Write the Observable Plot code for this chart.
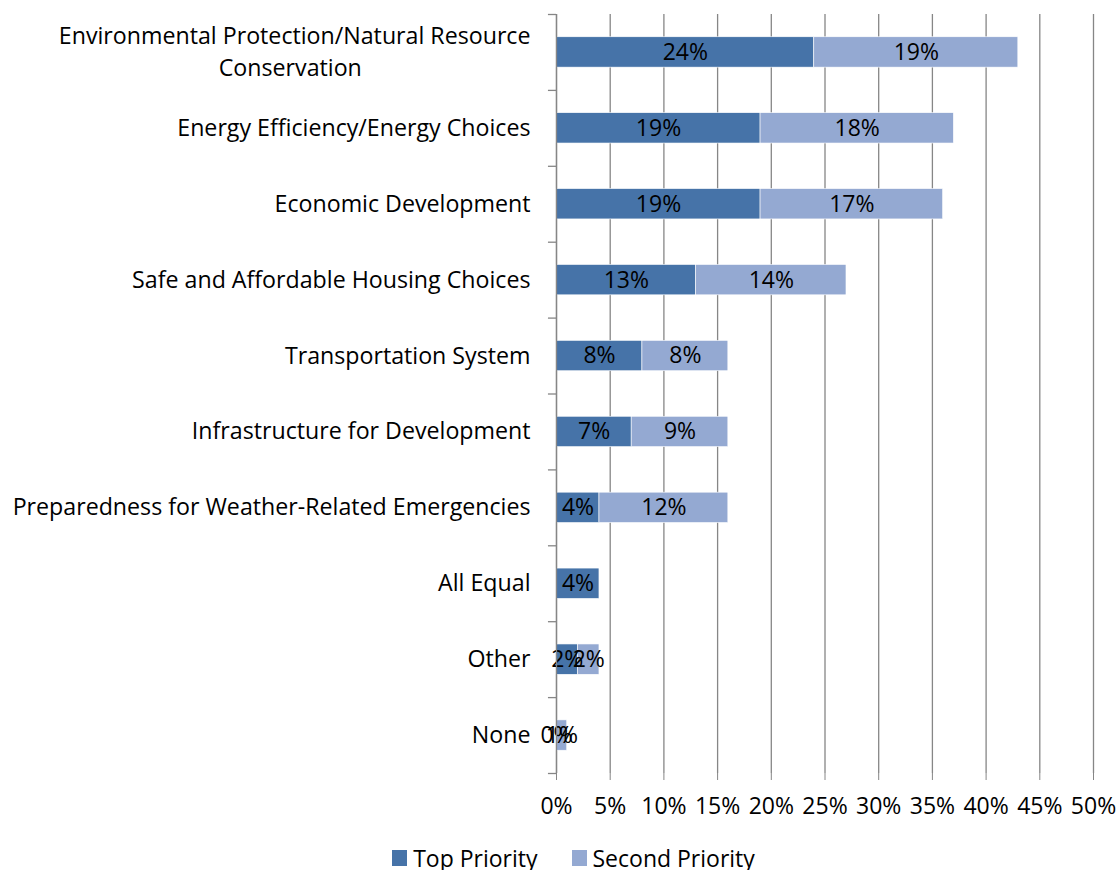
<!DOCTYPE html>
<html>
<head>
<meta charset="utf-8">
<script src="https://cdn.jsdelivr.net/npm/d3@7"></script>
<script src="https://cdn.jsdelivr.net/npm/@observablehq/plot@0.6"></script>
<style>
  body { margin: 0; background: #fff; font-family: "Open Sans", sans-serif; }
  #legend { display: flex; justify-content: center; gap: 34px; font-size: 23px; line-height: 24px; color: #000; padding-left: 28px; margin-top: 11px; }
  #legend span.item { display: flex; align-items: center; gap: 6px; }
  #legend span.sw { width: 15px; height: 16px; display: inline-block; }
</style>
</head>
<body>
<div id="chart"></div>
<script>
const categories = [
  "Environmental Protection/Natural Resource\nConservation",
  "Energy Efficiency/Energy Choices",
  "Economic Development",
  "Safe and Affordable Housing Choices",
  "Transportation System",
  "Infrastructure for Development",
  "Preparedness for Weather-Related Emergencies",
  "All Equal",
  "Other",
  "None"
];
const seriesNames = ["Top Priority", "Second Priority"];
const topPriority =    [24, 19, 19, 13, 8, 7, 4, 4, 2, 0];
const secondPriority = [19, 18, 17, 14, 8, 9, 12, null, 2, 1];
const xTicks = [0, 5, 10, 15, 20, 25, 30, 35, 40, 45, 50];
const colors = ["#4673A8", "#94A9D2"];

const rows = [];
categories.forEach((c, i) => {
  rows.push({category: c, series: seriesNames[0], value: topPriority[i]});
  if (secondPriority[i] != null) rows.push({category: c, series: seriesNames[1], value: secondPriority[i]});
});

const W = 1119, H = 835, mT = 14, mB = 62;
const step = (H - mT - mB) / categories.length;

// label for the first, two-line category: centre the second line under the first
const labelFor = (d) => {
  if (d.includes("\n")) {
    const [a, b] = d.split("\n");
    return a + "\n" + b + "\u00A0".repeat(28);
  }
  return d;
};

const stackOpts = {y: "category", x: "value", z: "series", order: seriesNames};
const grey = "#868686";

const chart = Plot.plot({
  width: W,
  height: H,
  marginLeft: 556,
  marginRight: 26,
  marginTop: mT,
  marginBottom: mB,
  style: {fontFamily: "Open Sans, sans-serif", fontSize: "23px", color: "#000", background: "#fff"},
  x: {domain: [0, 50], ticks: xTicks, tickFormat: d => d + "%", label: null},
  y: {domain: categories, paddingInner: 0.6, paddingOuter: 0.3, round: false, label: null},
  color: {domain: seriesNames, range: colors},
  marks: [
    Plot.gridX({ticks: xTicks, stroke: grey, strokeOpacity: 1, strokeWidth: 1.3}),
    Plot.barX(rows, Plot.stackX({...stackOpts, fill: "series", stroke: "#fff", strokeWidth: 0.6})),
    Plot.text(rows, Plot.stackX({...stackOpts, text: d => d.value + "%", fill: "#000", fontSize: 23})),
    Plot.ruleX([0], {stroke: grey, strokeWidth: 1.3}),
    Plot.ruleY(categories, {y: d => d, x1: -0.75, x2: 0, dy: -step / 2, stroke: grey, strokeWidth: 1.3}),
    Plot.ruleY([categories[categories.length - 1]], {y: d => d, x1: -0.75, x2: 0, dy: step / 2, stroke: grey, strokeWidth: 1.3}),
    Plot.axisX({ticks: xTicks, tickFormat: d => d + "%", tickSize: 7, tickPadding: 17, stroke: grey, fontSize: 23, label: null}),
    Plot.ruleY([0], {frameAnchor: "bottom", stroke: grey, strokeWidth: 1.3}),
    Plot.axisY({tickSize: 0, tickPadding: 26, tickFormat: labelFor, fontSize: 23.2, label: null, lineHeight: 1.42, dy: -3})
  ]
});
document.getElementById("chart").appendChild(chart);

const legend = document.createElement("div");
legend.id = "legend";
seriesNames.forEach((s, i) => {
  const item = document.createElement("span");
  item.className = "item";
  const sw = document.createElement("span");
  sw.className = "sw";
  sw.style.background = colors[i];
  item.appendChild(sw);
  item.appendChild(document.createTextNode(s));
  legend.appendChild(item);
});
document.body.appendChild(legend);
</script>
</body>
</html>
